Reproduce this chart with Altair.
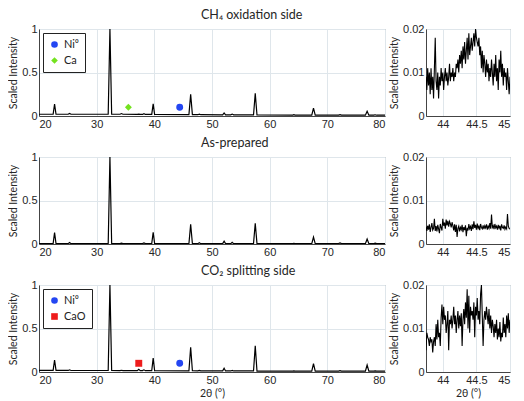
import altair as alt
import pandas as pd

# ---------------- wide scans (2theta 20-80) ----------------
X_WIDE = [20, 22.45, 22.7, 22.95, 25.05, 25.3, 25.55, 32.0, 32.3, 32.6, 34.05, 34.3, 34.55,
          37.05, 37.3, 37.55, 37.95, 38.2, 38.45, 39.55, 39.8, 40.05, 46.0, 46.3, 46.6,
          47.55, 47.8, 48.05, 51.85, 52.1, 52.35, 53.25, 53.5, 53.75, 57.2, 57.5, 57.8,
          64.0, 64.2, 64.4, 67.3, 67.6, 67.9, 71.95, 72.2, 72.45, 76.6, 76.9, 77.2,
          78.05, 78.3, 78.55, 80]

Y_CH4 = [0.02, 0.02, 0.137, 0.02, 0.02, 0.03, 0.02, 0.02, 1.0, 0.02, 0.02, 0.028, 0.02,
         0.018, 0.022, 0.018, 0.018, 0.026, 0.018, 0.018, 0.14, 0.017, 0.016, 0.25, 0.016,
         0.015, 0.022, 0.015, 0.014, 0.035, 0.014, 0.013, 0.022, 0.013, 0.012, 0.26, 0.012,
         0.011, 0.015, 0.011, 0.011, 0.09, 0.011, 0.01, 0.016, 0.01, 0.01, 0.055, 0.01,
         0.01, 0.014, 0.009, 0.009]

Y_ASP = [0.004, 0.004, 0.13, 0.004, 0.004, 0.018, 0.004, 0.004, 1.0, 0.004, 0.004, 0.01, 0.004,
         0.004, 0.005, 0.004, 0.004, 0.012, 0.004, 0.004, 0.135, 0.004, 0.004, 0.227, 0.004,
         0.004, 0.015, 0.004, 0.004, 0.033, 0.004, 0.004, 0.02, 0.004, 0.004, 0.238, 0.004,
         0.004, 0.007, 0.004, 0.004, 0.08, 0.004, 0.004, 0.012, 0.004, 0.004, 0.058, 0.004,
         0.004, 0.01, 0.004, 0.004]

Y_CO2 = [0.018, 0.018, 0.138, 0.018, 0.018, 0.025, 0.017, 0.017, 1.0, 0.017, 0.016, 0.02, 0.016,
         0.016, 0.03, 0.016, 0.016, 0.025, 0.015, 0.015, 0.16, 0.015, 0.014, 0.284, 0.014,
         0.013, 0.018, 0.013, 0.013, 0.044, 0.012, 0.012, 0.018, 0.012, 0.012, 0.3, 0.011,
         0.011, 0.013, 0.011, 0.011, 0.095, 0.01, 0.01, 0.015, 0.01, 0.01, 0.08, 0.01,
         0.01, 0.013, 0.01, 0.01]

# ---------------- zoomed scans (2theta 43.75-45) ----------------
ZOOM_START = 43.75
ZOOM_STEP = 0.0125

Z_CH4 = [0.009, 0.006, 0.011, 0.007, 0.010, 0.005, 0.011, 0.006, 0.009, 0.004, 0.011, 0.018, 0.008,
         0.006, 0.010, 0.004, 0.009, 0.007, 0.011, 0.008, 0.010, 0.006, 0.009, 0.011, 0.008,
         0.010, 0.007, 0.009, 0.012, 0.008, 0.010, 0.009, 0.011, 0.008, 0.010, 0.009, 0.012,
         0.011, 0.013, 0.010, 0.014, 0.012, 0.015, 0.011, 0.016, 0.013, 0.017, 0.012, 0.015,
         0.018, 0.013, 0.019, 0.014, 0.016, 0.018, 0.015, 0.017, 0.019, 0.016, 0.020, 0.018,
         0.017, 0.016, 0.018, 0.014,
         0.016, 0.011, 0.015, 0.010, 0.014, 0.012, 0.009, 0.013,
         0.010, 0.012, 0.008, 0.011, 0.009, 0.013, 0.010, 0.007, 0.012, 0.009, 0.014, 0.008,
         0.011, 0.006, 0.013, 0.010, 0.015, 0.009, 0.012, 0.007, 0.011, 0.009, 0.010, 0.006,
         0.011, 0.008, 0.005, 0.009]

Z_ASP = [0.004, 0.003, 0.0042, 0.0033, 0.0045, 0.0028, 0.0038, 0.0048, 0.0032, 0.0036,
         0.0058, 0.003, 0.0041, 0.0029, 0.0044, 0.0035, 0.0025, 0.0046, 0.0038, 0.0031,
         0.0058, 0.0042, 0.0049, 0.0035, 0.0056, 0.0043, 0.0053, 0.004, 0.0052, 0.0047,
         0.0038, 0.005, 0.0042, 0.0031, 0.0045, 0.0028, 0.0044, 0.0016, 0.0036, 0.0041,
         0.0029, 0.0038, 0.0033, 0.0044, 0.0027, 0.0039, 0.0032, 0.0043, 0.0018, 0.0037,
         0.0031, 0.0046, 0.0035, 0.004, 0.003, 0.0045, 0.0034, 0.0052, 0.0037, 0.0044,
         0.0033, 0.0047, 0.0036, 0.0041, 0.0032, 0.0046, 0.0038, 0.0035, 0.0043, 0.0034,
         0.0042, 0.0037, 0.0045, 0.0033, 0.0041, 0.0036, 0.0048, 0.0035, 0.0068, 0.0038,
         0.0042, 0.0034, 0.0046, 0.0037, 0.0041, 0.0033, 0.0044, 0.0036, 0.0042, 0.0031,
         0.0045, 0.0038, 0.0036, 0.0043, 0.0034, 0.0039, 0.0035, 0.0069, 0.0041, 0.0036, 0.0034]

Z_CO2 = [0.005, 0.009, 0.008, 0.0075, 0.006, 0.008, 0.007, 0.0075, 0.0045, 0.007, 0.008, 0.006,
         0.011, 0.0075, 0.012, 0.008, 0.009, 0.006,
         0.0125, 0.0155, 0.011, 0.015, 0.012, 0.013, 0.009, 0.011, 0.014, 0.005, 0.012, 0.011,
         0.013, 0.010, 0.012, 0.015, 0.011, 0.013, 0.009, 0.012, 0.014, 0.010, 0.013,
         0.0105, 0.0135, 0.006, 0.012, 0.0145, 0.011, 0.016, 0.0125, 0.019, 0.010, 0.0175,
         0.009, 0.015, 0.013, 0.014, 0.012, 0.016, 0.008, 0.015, 0.013, 0.017, 0.012,
         0.014, 0.011, 0.018, 0.020, 0.013, 0.006, 0.012, 0.014,
         0.012, 0.015, 0.013, 0.011, 0.0145, 0.010, 0.013, 0.009, 0.012, 0.0105, 0.008, 0.011,
         0.009, 0.012, 0.0075, 0.010, 0.008, 0.0115, 0.007, 0.009, 0.008, 0.0125, 0.009, 0.011,
         0.008, 0.013, 0.010, 0.0135, 0.009, 0.012]

# ---------------- phase markers ----------------
CH4_PHASES = ["Ni⁰", "Ca"]
CH4_PX = [44.4, 35.5]
CH4_PY = [0.1, 0.1]
CH4_COLORS = ["#2446f2", "#74e21f"]
CH4_SHAPES = ["circle", "diamond"]

CO2_PHASES = ["Ni⁰", "CaO"]
CO2_PX = [44.4, 37.3]
CO2_PY = [0.1, 0.1]
CO2_COLORS = ["#2446f2", "#ee1c1c"]
CO2_SHAPES = ["circle", "square"]

TITLES = ["CH₄ oxidation side", "As-prepared", "CO₂ splitting side"]
WIDE_TICKS = [20, 30, 40, 50, 60, 70, 80]
ZOOM_TICKS = [44, 44.5, 45]
XTITLE = "2θ (°)"
YTITLE = "Scaled Intensity"

LW, RW, H = 346, 84, 87
FONT = "Lato, 'DejaVu Sans'"
NUMFONT = "'Liberation Sans', Arial"
LABEL_EXPR = "'' + datum.value"


def xaxis(values, show_title):
    if show_title:
        return alt.Axis(values=values, labelExpr=LABEL_EXPR, title=XTITLE)
    return alt.Axis(values=values, labelExpr=LABEL_EXPR, title=None)


def wide_panel(yvals, title, show_xtitle, phases=None, px=None, py=None, colors=None, shapes=None):
    df = pd.DataFrame({"x": X_WIDE, "y": yvals})
    line = alt.Chart(df).mark_line(color="black", strokeWidth=1.2, clip=True).encode(
        x=alt.X("x:Q", scale=alt.Scale(domain=[20, 80], nice=False, zero=False),
                axis=xaxis(WIDE_TICKS, show_xtitle)),
        y=alt.Y("y:Q", scale=alt.Scale(domain=[0, 1], nice=False),
                axis=alt.Axis(values=[0, 0.5, 1], labelExpr=LABEL_EXPR, title=YTITLE)),
    )
    layers = [line]
    if phases is not None:
        mdf = pd.DataFrame({"x": px, "y": py, "phase": phases})
        leg = alt.Legend(title=None, orient="top-left", offset=4, fillColor="white",
                         strokeColor="#222", padding=6, labelFont=FONT, labelFontSize=11,
                         labelColor="#222", symbolSize=44, rowPadding=4, cornerRadius=0,
                         symbolStrokeWidth=0)
        pts = alt.Chart(mdf).mark_point(filled=True, opacity=1, size=48).encode(
            x="x:Q",
            y="y:Q",
            color=alt.Color("phase:N", scale=alt.Scale(domain=phases, range=colors), legend=leg, sort=phases),
            shape=alt.Shape("phase:N", scale=alt.Scale(domain=phases, range=shapes), legend=leg, sort=phases),
        )
        layers.append(pts)
    return alt.layer(*layers).properties(
        width=LW, height=H,
        title=alt.TitleParams(text=title, anchor="start", frame="group", dx=162),
    )


def zoom_panel(zvals, show_xtitle):
    xs = [round(ZOOM_START + i * ZOOM_STEP, 4) for i in range(len(zvals))]
    df = pd.DataFrame({"x": xs, "y": zvals})
    return alt.Chart(df).mark_line(color="black", strokeWidth=1.1, clip=True).encode(
        x=alt.X("x:Q", scale=alt.Scale(domain=[43.75, 45], nice=False, zero=False),
                axis=xaxis(ZOOM_TICKS, show_xtitle)),
        y=alt.Y("y:Q", scale=alt.Scale(domain=[0, 0.02], nice=False),
                axis=alt.Axis(values=[0, 0.01, 0.02], labelExpr=LABEL_EXPR, title=YTITLE)),
    ).properties(width=RW, height=H)


chart = alt.concat(
    wide_panel(Y_CH4, TITLES[0], False, CH4_PHASES, CH4_PX, CH4_PY, CH4_COLORS, CH4_SHAPES),
    zoom_panel(Z_CH4, False),
    wide_panel(Y_ASP, TITLES[1], False),
    zoom_panel(Z_ASP, False),
    wide_panel(Y_CO2, TITLES[2], True, CO2_PHASES, CO2_PX, CO2_PY, CO2_COLORS, CO2_SHAPES),
    zoom_panel(Z_CO2, True),
    columns=2, spacing={"row": 41, "column": 41}, bounds="flush", align="each",
).resolve_scale(
    color="independent", shape="independent"
).properties(padding=0).configure_view(
    stroke="#8a8a8a", strokeWidth=1
).configure_axis(
    labelFont=NUMFONT, labelFontSize=11, labelColor="#262626",
    titleFont=FONT, titleFontSize=10.5, titleFontWeight="normal", titleColor="#262626",
    gridColor="#dfe6eb", domainColor="#444", ticks=False, labelPadding=2, titlePadding=3,
).configure_title(
    font=FONT, fontSize=12.5, fontWeight="normal", color="#262626", offset=2
)

chart.save("out.html", embed_options={"renderer": "svg", "actions": False})
